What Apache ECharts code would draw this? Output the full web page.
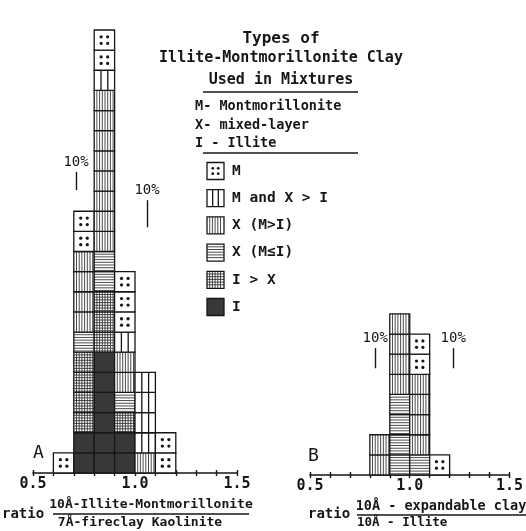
<!DOCTYPE html>
<html>
<head>
<meta charset="utf-8">
<script src="https://cdn.jsdelivr.net/npm/echarts@6/dist/echarts.min.js"></script>
<style>
  html, body { margin: 0; padding: 0; background: #fff; }
  #chart { width: 526px; height: 531px; }
</style>
</head>
<body>
<div id="chart"></div>
<script>
// clay types in legend order
const clayTypes = ['M', 'MX', 'XM', 'XI', 'IX', 'I'];
const clayLabels = ['M', 'M and X > I', 'X (M>I)', 'X (M≤I)', 'I > X', 'I'];

// histogram A: bin starts and one square per sample, bottom to top
const binsA = [0.6, 0.7, 0.8, 0.9, 1.0, 1.1];
const stacksA = [
  ['M'],
  ['I', 'I', 'IX', 'IX', 'IX', 'IX', 'XI', 'XM', 'XM', 'XM', 'XM', 'M', 'M'],
  ['I', 'I', 'I', 'I', 'I', 'I', 'IX', 'IX', 'IX', 'XI', 'XI',
   'XM', 'XM', 'XM', 'XM', 'XM', 'XM', 'XM', 'XM', 'MX', 'M', 'M'],
  ['I', 'I', 'IX', 'XI', 'XM', 'XM', 'MX', 'M', 'M', 'M'],
  ['XM', 'MX', 'MX', 'MX', 'MX'],
  ['M', 'M']
];

// histogram B
const binsB = [0.8, 0.9, 1.0, 1.1];
const stacksB = [
  ['XM', 'XM'],
  ['XI', 'XI', 'XI', 'XI', 'XM', 'XM', 'XM', 'XM'],
  ['XI', 'XM', 'XM', 'XM', 'XM', 'M', 'M'],
  ['M']
];

const binWidth = 0.1;
const xTickLabels = ['0.5', '1.0', '1.5'];

const ink = '#161616';
const mono = '"DejaVu Sans Mono", monospace';

function vline(x, y1, y2, w, c) {
  return { type: 'line', shape: { x1: x, y1: y1, x2: x, y2: y2 }, style: { stroke: c || ink, lineWidth: w } };
}
function hline(y, x1, x2, w, c) {
  return { type: 'line', shape: { x1: x1, y1: y, x2: x2, y2: y }, style: { stroke: c || ink, lineWidth: w } };
}

// shapes of one patterned square
function cellShapes(t, x, y, w, h) {
  const out = [];
  out.push({ type: 'rect', shape: { x: x, y: y, width: w, height: h },
    style: { fill: t === 'I' ? '#383838' : '#fff' } });
  const step = 2.7;
  if (t === 'M') {
    [[0.34, 0.34], [0.66, 0.34], [0.34, 0.66], [0.66, 0.66]].forEach(function (p) {
      out.push({ type: 'circle', shape: { cx: x + w * p[0], cy: y + h * p[1], r: Math.max(1.4, w * 0.08) },
        style: { fill: ink } });
    });
  } else if (t === 'MX') {
    out.push(vline(x + w / 3, y, y + h, 1.3));
    out.push(vline(x + 2 * w / 3, y, y + h, 1.3));
  }
  if (t === 'XM' || t === 'IX') {
    for (let xx = x + step; xx < x + w - 1; xx += step) out.push(vline(xx, y, y + h, 0.85, '#2a2a2a'));
  }
  if (t === 'XI' || t === 'IX') {
    for (let yy = y + step; yy < y + h - 1; yy += step) out.push(hline(yy, x, x + w, 0.85, '#2a2a2a'));
  }
  out.push({ type: 'rect', shape: { x: x, y: y, width: w, height: h },
    style: { fill: 'none', stroke: ink, lineWidth: 1.3 } });
  return out;
}

function cells(bins, stacks) {
  const d = [];
  stacks.forEach(function (col, i) {
    col.forEach(function (t, j) { d.push([bins[i], j, clayTypes.indexOf(t)]); });
  });
  return d;
}

function renderCell(params, api) {
  const x0 = api.value(0), lvl = api.value(1), t = clayTypes[api.value(2)];
  const p0 = api.coord([x0, lvl]);
  const p1 = api.coord([x0 + binWidth, lvl + 1]);
  return { type: 'group', children: cellShapes(t, p0[0], p1[1], p1[0] - p0[0], p0[1] - p1[1]) };
}

// main axis with outward ticks plus a twin with inward ticks, so ticks cross the line
function xAxes(gridIndex) {
  const base = { type: 'value', gridIndex: gridIndex, position: 'bottom', min: 0.5, max: 1.5, interval: 0.1,
    splitLine: { show: false } };
  return [
    Object.assign({}, base, {
      axisLine: { lineStyle: { color: ink, width: 1.6 } },
      axisTick: { length: 3, lineStyle: { color: ink, width: 1.4 } },
      axisLabel: {
        margin: 4, color: ink, fontFamily: mono, fontWeight: 'bold', fontSize: 15,
        formatter: function (v) { const s = v.toFixed(1); return xTickLabels.indexOf(s) >= 0 ? s : ''; }
      }
    }),
    Object.assign({}, base, {
      axisLine: { show: false },
      axisTick: { inside: true, length: 3, lineStyle: { color: ink, width: 1.4 } },
      axisLabel: { show: false }
    })
  ];
}

function marker(x, y0, y1, text) {
  return [{ coord: [x, y0] }, { coord: [x, y1], label: { formatter: text } }];
}
const markStyle = {
  silent: true, symbol: ['none', 'none'], animation: false,
  lineStyle: { color: ink, width: 1.4, type: 'solid' },
  label: { show: true, position: 'end', distance: 3, color: ink, fontFamily: mono, fontSize: 14 }
};

// legend and axis titles drawn as graphic elements
const graphics = [];
function text(str, x, y, size, align, weight) {
  graphics.push({ type: 'text', style: {
    text: str, x: x, y: y, fill: ink, font: (weight || 'bold') + ' ' + size + 'px ' + mono,
    align: align || 'left', verticalAlign: 'middle', textAlign: align || 'left', textVerticalAlign: 'middle'
  } });
}
function line(x1, y1, x2, y2, w) {
  graphics.push({ type: 'line', shape: { x1: x1, y1: y1, x2: x2, y2: y2 }, style: { stroke: ink, lineWidth: w || 1.5 } });
}
text('Types of', 281, 39, 16, 'center');
text('Illite-Montmorillonite Clay', 281, 58, 15, 'center');
text('Used in Mixtures', 281, 80, 15, 'center');
line(203, 92, 358, 92);
text('M- Montmorillonite', 195, 106, 13.5);
text('X- mixed-layer', 195, 125, 13.5);
text('I - Illite', 195, 143, 13.5);
line(203, 153, 358, 153);
clayTypes.forEach(function (t, i) {
  const cy = 171 + i * 27.2;
  graphics.push({ type: 'group', children: cellShapes(t, 207, cy - 8.5, 17, 17) });
  text(clayLabels[i], 232, cy, 14.5);
});
text('A', 33, 453, 18, 'left', 'normal');
text('B', 308, 456, 18, 'left', 'normal');
text('ratio', 2, 514, 14);
text('10Å-Illite-Montmorillonite', 151, 505, 13, 'center');
line(53, 514, 249, 514, 1.3);
text('7Å-fireclay Kaolinite', 140, 523, 13, 'center');
text('ratio', 308, 514, 14);
text('10Å - expandable clay', 441, 506, 13.5, 'center');
line(357, 515, 526, 515, 1.3);
text('10Å - Illite', 357, 523, 12.5);

const chart = echarts.init(document.getElementById('chart'));
chart.setOption({
  animation: false,
  backgroundColor: '#fff',
  grid: [
    { left: 33, width: 204, top: 30, height: 443 },
    { left: 310, width: 202, top: 313.9, height: 161.1 }
  ],
  xAxis: xAxes(0).concat(xAxes(1)),
  yAxis: [
    { type: 'value', gridIndex: 0, min: 0, max: 22, show: false },
    { type: 'value', gridIndex: 1, min: 0, max: 8, show: false }
  ],
  series: [
    {
      type: 'custom', xAxisIndex: 0, yAxisIndex: 0, clip: false,
      encode: { x: 0, y: 1 }, data: cells(binsA, stacksA), renderItem: renderCell,
      markLine: Object.assign({}, markStyle, { data: [
        marker(0.865, 22, 22.98, '0'),
        marker(0.711, 14.05, 14.95, '10%'),
        marker(1.059, 12.2, 13.55, '10%')
      ] })
    },
    {
      type: 'custom', xAxisIndex: 2, yAxisIndex: 1, clip: false,
      encode: { x: 0, y: 1 }, data: cells(binsB, stacksB), renderItem: renderCell,
      markLine: Object.assign({}, markStyle, { data: [
        marker(1.0, 8, 8.5, '0'),
        marker(0.827, 5.3, 6.3, '10%'),
        marker(1.218, 5.3, 6.3, '10%')
      ] })
    }
  ],
  graphic: graphics
});
</script>
</body>
</html>
